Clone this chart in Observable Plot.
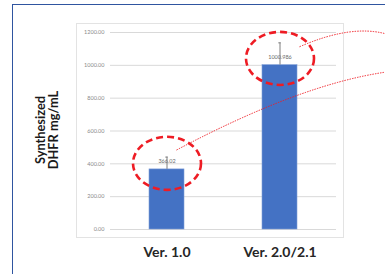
<!DOCTYPE html>
<html>
<head>
<meta charset="utf-8">
<script src="https://cdn.jsdelivr.net/npm/d3@7"></script>
<script src="https://cdn.jsdelivr.net/npm/@observablehq/plot@0.6"></script>
<style>
  html, body { margin: 0; padding: 0; background: #fff; }
  #wrap { position: relative; width: 385px; height: 274px; overflow: hidden; background: #fff; }
  #slide { position: absolute; left: 12px; top: 4px; width: 420px; height: 320px; border: 1.5px solid #2f55a0; box-sizing: border-box; }
  #area { position: absolute; left: 76px; top: 23px; width: 268px; height: 215px; border: 1px solid #e3e3e3; box-sizing: border-box; }
  #chart { position: absolute; left: 0; top: 0; }
  #chart svg { background: transparent; }
</style>
</head>
<body>
<div id="wrap">
  <div id="slide"></div>
  <div id="area"></div>
  <div id="chart"></div>
</div>
<script>
// ---- data ----
const categories = ["Ver. 1.0", "Ver. 2.0/2.1"];
const values = [366.02, 1000.986];
const valueLabels = ["366.02", "1000.986"];
const errorsPlus = [75, 136];
const yTicks = [0, 200, 400, 600, 800, 1000, 1200];
const yTitle = "Synthesized\nDHFR mg/mL";
// annotation anchors (data space): highlighted circles and pointer curves
const highlightValues = [403, 1042];
const pointerStartValues = [481, 1110];
const pointerEndValues = [955, 1190];

const rows = categories.map((c, i) => ({
  cat: c, value: values[i], label: valueLabels[i], top: values[i] + errorsPlus[i]
}));
const highlights = categories.map((c, i) => ({cat: c, value: highlightValues[i]}));

// ellipse symbol
const K = 0.5523;
const ellipse = {
  draw(ctx, size) {
    const rx = Math.sqrt(size / Math.PI), ry = rx * 0.78;
    ctx.moveTo(rx, 0);
    ctx.bezierCurveTo(rx, K * ry, K * rx, ry, 0, ry);
    ctx.bezierCurveTo(-K * rx, ry, -rx, K * ry, -rx, 0);
    ctx.bezierCurveTo(-rx, -K * ry, -K * rx, -ry, 0, -ry);
    ctx.bezierCurveTo(K * rx, -ry, rx, -K * ry, rx, 0);
    ctx.closePath();
  }
};

// pointer curves leaving the chart to the right edge
function pointers(index, scales, vals, dims) {
  const x = scales.x, y = scales.y;
  const bw = typeof x.bandwidth === "function" ? x.bandwidth() : (x.bandwidth || 0);
  const g = d3.create("svg:g");
  const specs = [
    {cat: categories[0], dx: 10, v0: pointerStartValues[0], v1: pointerEndValues[0], cx: 0.78, cv: 880},
    {cat: categories[1], dx: 20, v0: pointerStartValues[1], v1: pointerEndValues[1], cx: 0.91, cv: 1245}
  ];
  for (const s of specs) {
    const x0 = x(s.cat) + bw / 2 + s.dx, y0 = y(s.v0);
    const x1 = dims.width, y1 = y(s.v1);
    const p = d3.path();
    p.moveTo(x0, y0);
    p.quadraticCurveTo(dims.width * s.cx, y(s.cv), x1, y1);
    g.append("path").attr("d", p.toString())
      .attr("fill", "none").attr("stroke", "#f01c24")
      .attr("stroke-width", 1).attr("stroke-dasharray", "1.4 1.2");
  }
  return g.node();
}

const chart = Plot.plot({
  width: 385,
  height: 274,
  marginLeft: 110,
  marginRight: 49,
  marginTop: 32,
  marginBottom: 45,
  style: {fontFamily: "Lato, 'Open Sans', sans-serif", background: "transparent", overflow: "visible"},
  x: {domain: categories, paddingInner: 0.686, paddingOuter: 0.343, label: null},
  y: {domain: [0, 1200], label: null},
  marks: [
    Plot.gridY(yTicks, {stroke: "#d9d9d9", strokeOpacity: 1, strokeWidth: 1}),
    Plot.axisY(yTicks, {tickSize: 0, tickPadding: 6, tickFormat: d => d.toFixed(2), fontSize: 5.5, fill: "#8a8a8a", label: null}),
    Plot.axisX({tickSize: 0, tickPadding: 18, fontSize: 14, fontWeight: "bold", fill: "#262626", label: null}),
    Plot.barY(rows, {x: "cat", y: "value", fill: "#4472c4", stroke: "#7f9fd8", strokeWidth: 0.6}),
    Plot.ruleX(rows, {x: "cat", y1: "value", y2: "top", stroke: "#7f7f7f", strokeWidth: 1}),
    Plot.tickY(rows, {x: "cat", y: "top", stroke: "#7f7f7f", strokeWidth: 1, insetLeft: 16.3, insetRight: 16.3}),
    Plot.text(rows, {x: "cat", y: "value", text: "label", dy: -8, fontSize: 5.5, fill: "#6b6b6b"}),
    Plot.text([yTitle], {frameAnchor: "left", dx: -63, dy: -1, rotate: -90, text: d => d, fontSize: 12.8, fontWeight: "bold", fill: "#1a1a1a", lineHeight: 1.02, textAnchor: "middle", lineAnchor: "middle"}),
    Plot.dot(highlights, {x: "cat", y: "value", r: 34, symbol: ellipse, fill: "none", stroke: "#ee1c24", strokeWidth: 2.6, strokeDasharray: "7 4"}),
    pointers
  ]
});
document.getElementById("chart").appendChild(chart);
</script>
</body>
</html>
